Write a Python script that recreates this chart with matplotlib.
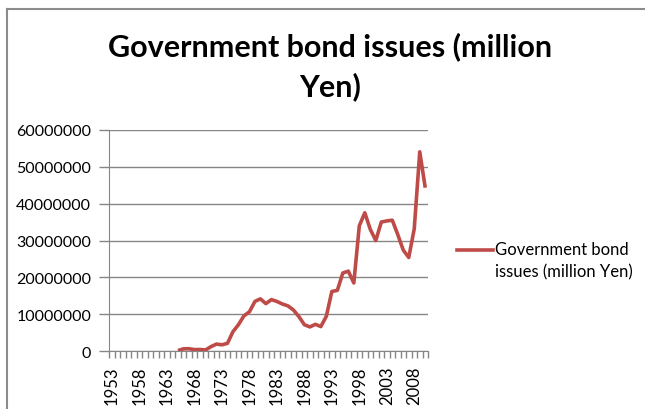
import numpy as np
import matplotlib
matplotlib.use("Agg")
import matplotlib.pyplot as plt
from matplotlib.lines import Line2D

#=============================================================================
# data: government bond issues, million yen
#=============================================================================
years = list(range(1965, 2011))
issues = [200000, 670000, 700000, 460000, 490000, 350000, 1260000, 1950000,
          1760000, 2160000, 5300000, 7200000, 9600000, 10700000, 13500000,
          14200000, 12900000, 14000000, 13500000, 12800000, 12300000,
          11200000, 9400000, 7200000, 6600000, 7300000, 6700000, 9500000,
          16200000, 16500000, 21200000, 21700000, 18500000, 34000000,
          37500000, 33000000, 30000000, 35000000, 35300000, 35500000,
          31600000, 27400000, 25400000, 33200000, 54000000, 44300000]

first_year, last_year = 1953, 2010
label_years = list(range(1953, 2009, 5))
y_ticks = [0, 10000000, 20000000, 30000000, 40000000, 50000000, 60000000]

line_color = "#BE4B48"
grid_color = "#868686"
plt.rcParams['font.family'] = ['Lato', 'DejaVu Sans']

#=============================================================================
# figure
#=============================================================================
W, H = 645, 410
fig = plt.figure(figsize=(W / 100, H / 100), dpi=100)
ax = fig.add_axes([109.3 / W, 1 - 352.3 / H, (428 - 109.3) / W, (352.3 - 130.7) / H])

ax.plot(years, issues, color=line_color, lw=2.6, solid_joinstyle="round",
        solid_capstyle="butt", zorder=3)

ax.set_xlim(first_year - 0.5, last_year + 0.5)
ax.set_ylim(0, 60000000)

# y axis
ax.set_yticks(y_ticks)
ax.set_yticklabels([str(v) for v in y_ticks], fontsize=11.5)
ax.yaxis.grid(True, color=grid_color, lw=1.0)
ax.tick_params(axis="y", length=7, width=1, color=grid_color, pad=6)

# x axis: labels every 5 years, tick marks between categories
ax.set_xticks(label_years)
ax.set_xticklabels([str(y) for y in label_years], rotation=90, fontsize=12)
ax.set_xticks(np.arange(first_year - 0.5, last_year + 1.0, 1.0), minor=True)
ax.tick_params(axis="x", which="major", length=0, pad=10)
ax.tick_params(axis="x", which="minor", length=5, width=1, color=grid_color)

for side in ["top", "right"]:
    ax.spines[side].set_visible(False)
ax.spines["left"].set_color(grid_color)
ax.spines["bottom"].set_color(grid_color)
ax.set_axisbelow(True)

# title (two lines, as wrapped in the source)
fig.text(330 / W, 1 - 56 / H, "Government bond issues (million", ha="center",
         va="baseline", fontsize=22, fontweight="bold")
fig.text(330 / W, 1 - 96 / H, "Yen)", ha="center", va="baseline",
         fontsize=22, fontweight="bold")

# legend
fig.add_artist(Line2D([457 / W, 493 / W], [1 - 251 / H, 1 - 251 / H],
                      color=line_color, lw=2.6, transform=fig.transFigure))
fig.text(495 / W, 1 - 250 / H, "Government bond", ha="left", va="center",
         fontsize=12)
fig.text(495 / W, 1 - 272 / H, "issues (million Yen)", ha="left", va="center",
         fontsize=12)

# chart frame (partly cropped in the source)
fig.add_artist(Line2D([7 / W, 1], [1 - 10 / H, 1 - 10 / H], color="#8C8C8C",
                      lw=1.5, transform=fig.transFigure))
fig.add_artist(Line2D([7 / W, 7 / W], [0, 1 - 10 / H], color="#8C8C8C",
                      lw=1.5, transform=fig.transFigure))

fig.savefig("out.png", dpi=100)
